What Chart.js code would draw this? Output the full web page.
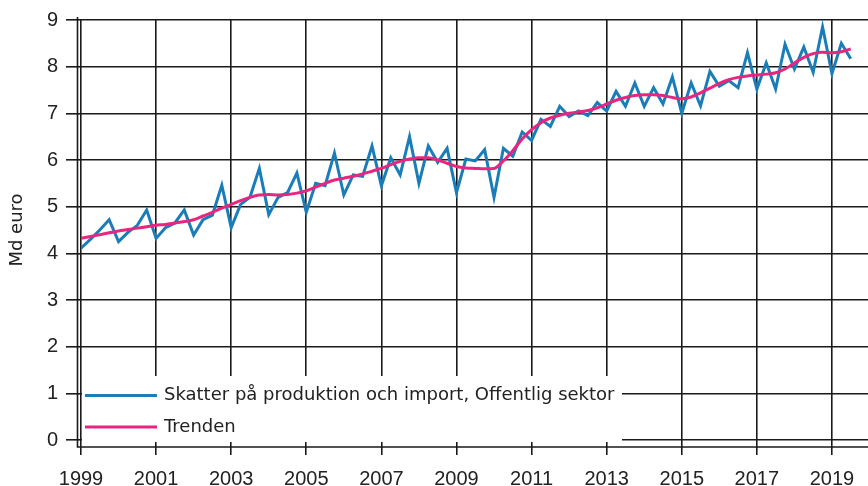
<!DOCTYPE html>
<html><head><meta charset="utf-8">
<script src="https://cdn.jsdelivr.net/npm/chart.js@4/dist/chart.umd.min.js"></script>
<style>html,body{margin:0;padding:0;background:#fff}#wrap{width:868px;height:486px;position:relative}</style>
</head><body><div id="wrap"><canvas id="c" width="868" height="486"></canvas></div>
<script>
const quarters = [
 '1999Q1','1999Q2','1999Q3','1999Q4','2000Q1','2000Q2','2000Q3','2000Q4',
 '2001Q1','2001Q2','2001Q3','2001Q4','2002Q1','2002Q2','2002Q3','2002Q4',
 '2003Q1','2003Q2','2003Q3','2003Q4','2004Q1','2004Q2','2004Q3','2004Q4',
 '2005Q1','2005Q2','2005Q3','2005Q4','2006Q1','2006Q2','2006Q3','2006Q4',
 '2007Q1','2007Q2','2007Q3','2007Q4','2008Q1','2008Q2','2008Q3','2008Q4',
 '2009Q1','2009Q2','2009Q3','2009Q4','2010Q1','2010Q2','2010Q3','2010Q4',
 '2011Q1','2011Q2','2011Q3','2011Q4','2012Q1','2012Q2','2012Q3','2012Q4',
 '2013Q1','2013Q2','2013Q3','2013Q4','2014Q1','2014Q2','2014Q3','2014Q4',
 '2015Q1','2015Q2','2015Q3','2015Q4','2016Q1','2016Q2','2016Q3','2016Q4',
 '2017Q1','2017Q2','2017Q3','2017Q4','2018Q1','2018Q2','2018Q3','2018Q4',
 '2019Q1','2019Q2','2019Q3'
];
const skatter = [
 4.11,4.30,4.50,4.72, 4.25,4.45,4.60,4.93, 4.32,4.55,4.65,4.93, 4.39,4.72,4.82,5.46,
 4.55,5.05,5.20,5.82, 4.83,5.20,5.30,5.72, 4.88,5.50,5.45,6.15, 5.25,5.68,5.65,6.30,
 5.45,6.05,5.68,6.50, 5.50,6.30,5.95,6.25, 5.30,6.02,5.98,6.22, 5.20,6.25,6.08,6.60,
 6.42,6.87,6.72,7.15, 6.93,7.05,6.95,7.23, 7.05,7.47,7.15,7.65, 7.15,7.55,7.20,7.78,
 7.00,7.65,7.16,7.90, 7.58,7.70,7.55,8.30, 7.52,8.08,7.52,8.48, 7.95,8.42,7.88,8.85,
 7.85,8.50,8.17
];
const trenden = [
 4.32,4.36,4.40,4.44, 4.48,4.51,4.54,4.57, 4.60,4.62,4.65,4.68, 4.72,4.80,4.88,4.97,
 5.05,5.13,5.20,5.25, 5.26,5.25,5.26,5.29, 5.34,5.42,5.50,5.57, 5.61,5.65,5.70,5.76,
 5.82,5.90,5.97,6.02, 6.05,6.05,6.00,5.93, 5.86,5.83,5.82,5.81, 5.82,5.98,6.20,6.45,
 6.65,6.80,6.90,6.96, 7.00,7.03,7.06,7.12, 7.20,7.28,7.34,7.38, 7.40,7.40,7.38,7.34,
 7.31,7.35,7.44,7.54, 7.64,7.72,7.77,7.80, 7.82,7.84,7.87,7.95, 8.08,8.20,8.28,8.31,
 8.30,8.32,8.38
];
const xTickYears = [1999,2001,2003,2005,2007,2009,2011,2013,2015,2017,2019];
const yTickValues = [0,1,2,3,4,5,6,7,8,9];
const seriesLabels = ['Skatter på produktion och import, Offentlig sektor','Trenden'];
const yAxisTitle = 'Md euro';

const BLUE = '#1b7db8', PINK = '#e8267f', GRID = '#1a1a1a', TXT = '#222';
const FONT = "'DejaVu Sans', Verdana, sans-serif";
const TICKFONT = "'Liberation Sans', Arial, sans-serif";

function qToX(q){ return parseInt(q.slice(0,4),10) + (parseInt(q.slice(5),10)-1)/4; }
const blueData = quarters.map((q,i)=>({x:qToX(q), y:skatter[i]}));
const pinkData = quarters.map((q,i)=>({x:qToX(q), y:trenden[i]}));

const overlay = {
  id:'overlay',
  afterDatasetsDraw(chart){
    const ctx = chart.ctx, a = chart.chartArea;
    ctx.save();
    const bx = a.left + 1, by = a.bottom - 64;
    ctx.fillStyle = '#fff';
    ctx.fillRect(bx, by, 540, 66);
    const items = [[seriesLabels[0], BLUE, by + 19.5],[seriesLabels[1], PINK, by + 51]];
    ctx.font = '18px ' + FONT;
    ctx.textBaseline = 'middle';
    ctx.textAlign = 'left';
    for (const [t,c,y] of items){
      ctx.strokeStyle = c; ctx.lineWidth = 3;
      ctx.beginPath(); ctx.moveTo(bx + 3, y); ctx.lineTo(bx + 75, y); ctx.stroke();
      ctx.fillStyle = TXT; ctx.fillText(t, bx + 82, y);
    }
    ctx.strokeStyle = GRID; ctx.lineWidth = 1.6;
    ctx.beginPath();
    ctx.moveTo(a.left - 3.5, a.top - 3);
    ctx.lineTo(a.left - 3.5, a.bottom + 7);
    ctx.lineTo(chart.width, a.bottom + 7);
    ctx.stroke();
    ctx.restore();
  }
};

new Chart(document.getElementById('c'), {
  type:'line',
  data:{ datasets:[
    { label:seriesLabels[0], data:blueData, borderColor:BLUE, borderWidth:3, pointRadius:0, tension:0, order:1 },
    { label:seriesLabels[1], data:pinkData, borderColor:PINK, borderWidth:3, pointRadius:0, tension:0.4, cubicInterpolationMode:'monotone', order:0 }
  ]},
  options:{
    responsive:false, animation:false, devicePixelRatio:1,
    layout:{ padding:{ top:20, right:0, left:0, bottom:0 } },
    plugins:{ legend:{display:false}, tooltip:{enabled:false} },
    scales:{
      x:{ type:'linear', min:1999, max:2019.96,
        afterBuildTicks(s){ s.ticks = xTickYears.map(v=>({value:v})); },
        afterFit(s){ s.height = 46; },
        ticks:{ autoSkip:false, maxRotation:0, color:TXT, padding:12, font:{family:TICKFONT, size:20},
          callback:(v)=>String(v) },
        grid:{ color:GRID, lineWidth:1.6, tickLength:15, drawTicks:true },
        border:{ display:false }
      },
      y:{ min:0, max:9,
        afterBuildTicks(s){ s.ticks = yTickValues.map(v=>({value:v})); },
        afterFit(s){ s.width = 81; },
        ticks:{ color:TXT, padding:8, font:{family:TICKFONT, size:20}, callback:(v)=>String(v) },
        grid:{ color:GRID, lineWidth:1.6, tickLength:15, drawTicks:true },
        border:{ display:false },
        title:{ display:true, text:yAxisTitle, color:TXT, font:{family:FONT, size:18}, padding:{top:7, bottom:0} }
      }
    }
  },
  plugins:[overlay]
});
</script></body></html>
